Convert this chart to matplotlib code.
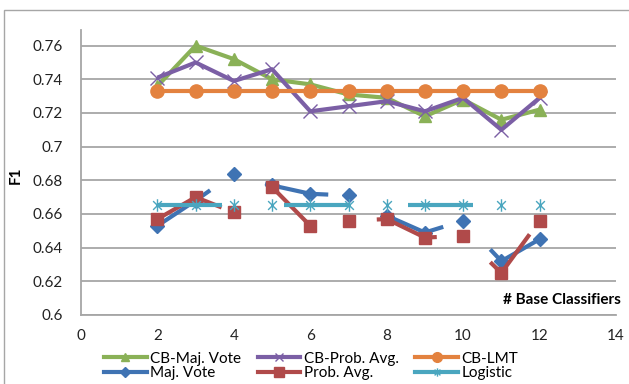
import numpy as np
import matplotlib
matplotlib.use('Agg')
import matplotlib.pyplot as plt
from matplotlib.lines import Line2D
from matplotlib.patches import Rectangle
from matplotlib.path import Path

plt.rcParams['font.family'] = ['Lato', 'DejaVu Sans']

# number of base classifiers
n_clf = [2, 3, 4, 5, 6, 7, 8, 9, 10, 11, 12]

cb_maj_vote = [0.736, 0.760, 0.752, 0.740, 0.737, 0.731, 0.729, 0.718, 0.728, 0.716, 0.722]
cb_prob_avg = [0.741, 0.750, 0.739, 0.746, 0.721, 0.724, 0.727, 0.721, 0.729, 0.710, 0.729]
cb_lmt = [0.733] * 11
maj_vote = [0.653, 0.668, 0.684, 0.677, 0.672, 0.671, 0.659, 0.649, 0.656, 0.632, 0.645]
prob_avg = [0.657, 0.670, 0.661, 0.676, 0.653, 0.656, 0.657, 0.646, 0.647, 0.625, 0.656]
logistic = [0.6655] * 11

# parts of the connecting lines that show up in the original (x ranges)
maj_vote_seen = [(2, 3.38), (4.82, 6.47), (7.9, 9.48), (10.71, 12)]
prob_avg_seen = [(2, 3.68), (5, 6), (7.74, 9.31), (10.71, 11.74)]
logistic_seen = [(2, 3.68), (5.3, 7.04), (8.57, 10.27)]

labels = ['CB-Maj. Vote', 'CB-Prob. Avg.', 'CB-LMT', 'Maj. Vote', 'Prob. Avg.', 'Logistic']
colors = ['#8AB157', '#7B5FA5', '#E3823F', '#3F73B3', '#B04A4A', '#4AA6BF']

# excel style star: an x with a vertical bar through it
star = Path([(0, -1), (0, 1), (-0.7, -0.7), (0.7, 0.7), (-0.7, 0.7), (0.7, -0.7)],
            [Path.MOVETO, Path.LINETO] * 3)

fig = plt.figure(figsize=(6.29, 3.84), dpi=100)
ax = fig.add_axes([81/629, 1-315/384, 535/629, 285/384])

def draw(vals, col, mk, ms, spans=None, mew=1.0):
    x = np.array(n_clf, dtype=float)
    y = np.array(vals)
    if spans is None:
        ax.plot(x, y, color=col, lw=3, solid_capstyle='butt')
    else:
        for a, b in spans:
            xs = np.concatenate(([a], x[(x > a) & (x < b)], [b]))
            ax.plot(xs, np.interp(xs, x, y), color=col, lw=3, solid_capstyle='butt')
    ax.plot(x, y, ls='none', marker=mk, ms=ms, color=col, mew=mew, mec=col)

draw(cb_maj_vote, colors[0], '^', 9)
draw(cb_prob_avg, colors[1], 'x', 10)
draw(cb_lmt, colors[2], 'o', 9.5)
draw(maj_vote, colors[3], 'D', 7, maj_vote_seen)
draw(prob_avg, colors[4], 's', 8.5, prob_avg_seen)
draw(logistic, colors[5], star, 9, logistic_seen)

ax.set_xlim(0, 14)
ax.set_ylim(0.6, 0.7693)
ax.set_xticks(range(0, 15, 2))
yt = np.round(np.arange(0.6, 0.761, 0.02), 2)
ax.set_yticks(yt)
ax.set_yticklabels([f'{v:g}' for v in yt])
ax.tick_params(length=0, labelsize=11, colors='#222222')
ax.tick_params(axis='y', pad=13)
ax.tick_params(axis='x', pad=10)
ax.grid(axis='y', color='#A6A6A6', lw=1.3)
ax.set_axisbelow(True)
for s in ['top', 'right']:
    ax.spines[s].set_visible(False)
for s in ['left', 'bottom']:
    ax.spines[s].set_color('#A6A6A6')
    ax.spines[s].set_linewidth(1.3)

fig.text(16/629, 1-175/384, 'F1', rotation=90, fontsize=11, fontweight='bold',
         ha='center', va='center')
ax.text(621/629, 1-300/384, '# Base Classifiers', transform=fig.transFigure,
        fontsize=11, fontweight='bold', ha='right', va='center')

markers = ['^', 'x', 'o', 'D', 's', star]
msizes = [6, 6, 7, 5, 7, 6]
handles = [Line2D([], [], color=c, lw=3, marker=m, ms=s, mew=1.0)
           for c, m, s in zip(colors, markers, msizes)]
order = [0, 3, 1, 4, 2, 5]   # fill legend row by row
fig.legend([handles[i] for i in order], [labels[i] for i in order], ncol=3, loc='center',
           bbox_to_anchor=(311/629, 1-366/384), frameon=False, fontsize=11,
           handlelength=2.8, handletextpad=0.2, columnspacing=1.1,
           labelspacing=0.05, borderpad=0)

fig.patches.append(Rectangle((4/629, -0.02), 1.0, 1-10/384+0.02, transform=fig.transFigure,
                             fill=False, edgecolor='#A6A6A6', lw=1.0))

fig.savefig('out.png', dpi=100)
